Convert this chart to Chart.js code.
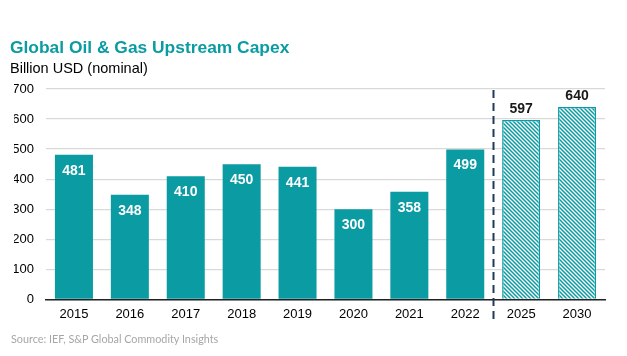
<!DOCTYPE html>
<html>
<head>
<meta charset="utf-8">
<script src="https://cdn.jsdelivr.net/npm/chart.js@4.4.0/dist/chart.umd.min.js"></script>
<style>
html,body{margin:0;padding:0;background:#fff;width:627px;height:356px;overflow:hidden;font-family:"Liberation Sans",Arial,sans-serif;}
#wrap{position:relative;width:627px;height:356px;}
canvas{position:absolute;left:0;top:0;}
.t{position:absolute;white-space:nowrap;}
#title{left:10px;top:37px;font-size:17.4px;font-weight:bold;color:#0A9BA3;}
#sub{left:10px;top:60px;font-size:14.5px;color:#000;}
#src{left:11px;top:332px;font-size:10.8px;color:#A6A6A6;font-family:"Lato","Liberation Sans",sans-serif;}
</style>
</head>
<body>
<div id="wrap">
<canvas id="c" width="627" height="356"></canvas>
<div class="t" id="title">Global Oil &amp; Gas Upstream Capex</div>
<div class="t" id="sub">Billion USD (nominal)</div>
<div class="t" id="src">Source: IEF, S&amp;P Global Commodity Insights</div>
</div>
<script>
const categories = ["2015","2016","2017","2018","2019","2020","2021","2022","2025","2030"];
const capex = [481, 348, 410, 450, 441, 300, 358, 499, 597, 640];
const forecast = [false,false,false,false,false,false,false,false,true,true];
const yTicks = [0,100,200,300,400,500,600,700];

const TEAL = "#0A9BA3";

function hatch(){
  const s = 4;
  const p = document.createElement("canvas");
  p.width = s; p.height = s;
  const g = p.getContext("2d");
  g.fillStyle = "#fff"; g.fillRect(0,0,s,s);
  g.strokeStyle = TEAL; g.lineWidth = 1.5;
  g.beginPath();
  g.moveTo(-1,-1); g.lineTo(s+1,s+1);
  g.moveTo(-1,s-1); g.lineTo(1,s+1);
  g.moveTo(s-1,-1); g.lineTo(s+1,1);
  g.stroke();
  return document.getElementById("c").getContext("2d").createPattern(p,"repeat");
}
const pat = hatch();

const labelPlugin = {
  id:"labels",
  afterDatasetsDraw(chart){
    const ctx = chart.ctx;
    const meta = chart.getDatasetMeta(0);
    ctx.save();
    ctx.font = "bold 14px 'Liberation Sans', Arial, sans-serif";
    ctx.textAlign = "center";
    ctx.textBaseline = "middle";
    meta.data.forEach((bar,i)=>{
      if(forecast[i]){
        ctx.fillStyle = "#1a1a1a";
        ctx.fillText(String(capex[i]), bar.x, bar.y - 11);
      } else {
        ctx.fillStyle = "#fff";
        ctx.fillText(String(capex[i]), bar.x, bar.y + 16);
      }
    });
    const xs = chart.scales.x;
    const firstF = forecast.indexOf(true);
    const x = Math.round((xs.getPixelForValue(firstF-1) + xs.getPixelForValue(firstF))/2) + 0.5;
    ctx.strokeStyle = "#1F3A5A";
    ctx.lineWidth = 2;
    ctx.setLineDash([8,5]);
    ctx.beginPath();
    ctx.moveTo(x, chart.chartArea.top + 1);
    ctx.lineTo(x, chart.chartArea.bottom + 24);
    ctx.stroke();
    ctx.restore();
  }
};

new Chart(document.getElementById("c"), {
  type:"bar",
  data:{
    labels: categories,
    datasets:[{
      data: capex,
      backgroundColor: capex.map((v,i)=> forecast[i] ? pat : TEAL),
      borderColor: TEAL,
      borderWidth: capex.map((v,i)=> forecast[i] ? 1.5 : 0),
      categoryPercentage: 1.0,
      barPercentage: 0.68
    }]
  },
  options:{
    responsive:false,
    animation:false,
    devicePixelRatio:1,
    layout:{padding:{left:14,right:22,top:89,bottom:27}},
    plugins:{legend:{display:false},tooltip:{enabled:false}},
    scales:{
      x:{
        grid:{display:false,drawTicks:false},
        border:{display:true,color:"#222",width:1.5},
        ticks:{color:"#000",font:{size:13,family:"'Liberation Sans', Arial, sans-serif"},padding:7}
      },
      y:{
        min:0,max:700,
        afterBuildTicks(axis){ axis.ticks = yTicks.map(v=>({value:v})); },
        afterFit(axis){ axis.width = 32; },
        grid:{color:"#D9D9D9",lineWidth:1.3,drawTicks:false},
        border:{display:false},
        ticks:{color:"#000",font:{size:13,family:"'Liberation Sans', Arial, sans-serif"},padding:12}
      }
    }
  },
  plugins:[labelPlugin]
});
</script>
</body>
</html>
